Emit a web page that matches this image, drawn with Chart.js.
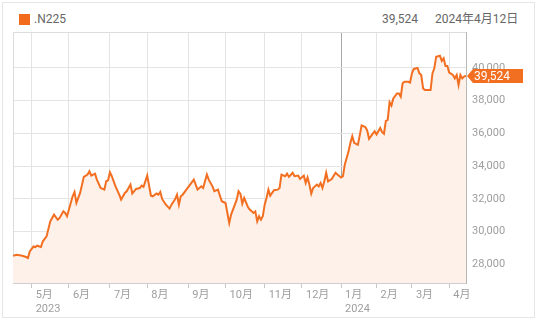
<!DOCTYPE html>
<html lang="ja">
<head>
<meta charset="utf-8">
<title>.N225</title>
<script src="https://cdn.jsdelivr.net/npm/chart.js@4.4.1/dist/chart.umd.min.js"></script>
<style>
  html, body { margin: 0; padding: 0; background: #fff; }
  body { width: 537px; height: 322px; position: relative; overflow: hidden;
         font-family: Roboto, "Noto Sans CJK JP", sans-serif; }
  #frame { position: absolute; left: 2px; top: 2px; width: 531px; height: 314px; border: 1px solid #e6e6e6; }
  #legend-box { position: absolute; left: 19px; top: 14px; width: 11px; height: 11px; background: #f26b1d; }
  .head { position: absolute; top: 11px; font-size: 12px; line-height: 16px; color: #666; }
  #chart { position: absolute; left: 0; top: 0; }
</style>
</head>
<body>
<div id="frame"></div>
<div id="legend-box"></div>
<div class="head" style="left:34px">.N225</div>
<div class="head" id="last-value" style="left:382px"></div>
<div class="head" style="left:435px">2024年4月12日</div>
<canvas id="chart" width="537" height="322"></canvas>
<script>
(function() {
  "use strict";

  // 営業日インデックス（2023年4月中旬 = 0）と終値
  var tradingDay = [
    0, 2, 5, 7, 8, 9, 11, 12, 13, 15, 16, 18, 20, 22, 24, 25, 27, 28, 29, 30,
    32, 33, 34, 36, 38, 40, 41, 42, 44, 45, 47, 49, 50, 51, 52, 53, 55, 57, 58, 60,
    61, 63, 64, 66, 68, 69, 70, 72, 74, 75, 77, 78, 79, 80, 82, 84, 85, 87, 88, 89,
    90, 91, 93, 95, 97, 98, 99, 101, 102, 104, 105, 107, 108, 110, 111, 112, 114, 115, 116, 117,
    119, 120, 121, 122, 123, 124, 126, 127, 129, 130, 131, 132, 133, 134, 135, 136, 137, 138, 140, 142,
    143, 144, 146, 147, 148, 150, 151, 153, 154, 156, 157, 158, 159, 160, 161, 163, 164, 165, 166, 167,
    168, 169, 171, 173, 174, 176, 177, 178, 180, 181, 182, 183, 185, 186, 187, 189, 190, 191, 193, 194,
    195, 196, 197, 198, 199, 200, 201, 202, 203, 204, 206, 207, 208, 209, 210, 212, 213, 214, 215, 217,
    218, 219, 220, 221, 224, 225, 226, 227, 229, 230, 231, 232, 233, 234, 236, 237, 238, 239, 240, 241,
    242, 243
  ];
  var closeValues = [
    28520, 28580, 28520, 28440, 28380, 28780, 29090, 29050, 29130, 29050, 29400, 29700, 30620, 31030, 30720, 30830, 31230, 31130, 30930, 31340,
    32150, 32420, 31750, 32360, 33340, 33480, 33680, 33420, 33540, 33170, 32660, 32560, 33070, 33130, 33620, 33380, 32760, 32260, 31950, 32360,
    32460, 32870, 32320, 32600, 32660, 32810, 32730, 33420, 32190, 32150, 32320, 32250, 32420, 31990, 31640, 31400, 31640, 31990, 32250, 31640,
    32150, 32250, 32560, 32870, 33170, 32870, 32560, 32760, 32660, 33480, 33170, 32760, 32460, 32560, 32190, 31850, 31740, 31130, 30520, 31030,
    31640, 31950, 32460, 32300, 31700, 32050, 31500, 31340, 31130, 31230, 30620, 30930, 30720, 30930, 31640, 32050, 32560, 32190, 32520, 32560,
    32660, 33480, 33380, 33540, 33340, 33590, 33380, 33420, 33210, 33420, 32970, 33300, 32870, 32320, 32660, 32870, 32760, 32970, 32660, 33070,
    33590, 33070, 33210, 33590, 33480, 33300, 33380, 34100, 34900, 35420, 35830, 35420, 35300, 35880, 36490, 36390, 36180, 35670, 35980, 36130,
    35930, 36130, 36330, 36080, 35980, 36760, 36820, 37900, 37700, 38140, 38440, 38440, 38240, 39060, 39160, 39160, 39110, 39670, 39940, 40000,
    39670, 39570, 38750, 38650, 38650, 39670, 39980, 40690, 40750, 40430, 40590, 40120, 40120, 39720, 39570, 39360, 39570, 38960, 39570, 39360,
    39470, 39524
  ];

  // 月初の営業日インデックスと目盛ラベル
  var monthTickDay = [10, 30, 52, 72, 94, 114, 135, 155, 176, 195, 214, 234];
  var monthLabels = ['5月', '6月', '7月', '8月', '9月', '10月', '11月', '12月', '1月', '2月', '3月', '4月'];
  var yearLabels = ['2023', '', '', '', '', '', '', '', '2024', '', '', ''];
  var yTickValues = [28000, 30000, 32000, 34000, 36000, 38000, 40000];

  var LINE_COLOR = '#f26f21';
  var lastClose = closeValues[closeValues.length - 1];

  function fmt(v) {
    return Number(v).toLocaleString('en-US');
  }

  document.getElementById('last-value').textContent = fmt(lastClose);

  Chart.defaults.font.family = 'Roboto, "Noto Sans CJK JP", sans-serif';

  // プロット枠（左・上）
  var framePlugin = {
    id: 'plotFrame',
    beforeDatasetsDraw: function(chart) {
      var a = chart.chartArea, ctx = chart.ctx;
      ctx.save();
      ctx.strokeStyle = '#dcdcdc';
      ctx.lineWidth = 1;
      ctx.beginPath();
      ctx.moveTo(Math.round(a.left) + 0.5, a.bottom);
      ctx.lineTo(Math.round(a.left) + 0.5, Math.round(a.top) + 0.5);
      ctx.lineTo(a.right, Math.round(a.top) + 0.5);
      ctx.stroke();
      ctx.restore();
    }
  };

  // 最新値のタグ
  var lastTagPlugin = {
    id: 'lastTag',
    afterDraw: function(chart) {
      var ctx = chart.ctx;
      var py = Math.round(chart.scales.y.getPixelForValue(lastClose));
      var x0 = chart.chartArea.right + 1;
      ctx.save();
      ctx.fillStyle = LINE_COLOR;
      ctx.beginPath();
      ctx.moveTo(x0, py);
      ctx.lineTo(x0 + 6, py - 7);
      ctx.lineTo(x0 + 56, py - 7);
      ctx.lineTo(x0 + 56, py + 7);
      ctx.lineTo(x0 + 6, py + 7);
      ctx.closePath();
      ctx.fill();
      ctx.fillStyle = '#fff';
      ctx.font = '12px Roboto, sans-serif';
      ctx.textBaseline = 'middle';
      ctx.textAlign = 'left';
      ctx.fillText(fmt(lastClose), x0 + 7, py + 1);
      ctx.restore();
    }
  };

  var points = tradingDay.map(function(d, i) {
    return { x: d, y: closeValues[i] };
  });

  new Chart(document.getElementById('chart'), {
    type: 'line',
    data: {
      datasets: [{
        label: '.N225',
        data: points,
        borderColor: LINE_COLOR,
        borderWidth: 2,
        backgroundColor: '#fdf1e9',
        fill: 'start',
        pointRadius: 0,
        tension: 0
      }]
    },
    options: {
      responsive: false,
      animation: false,
      devicePixelRatio: 1,
      layout: { padding: { left: 13, top: 32, right: 0, bottom: 0 } },
      plugins: {
        legend: { display: false },
        tooltip: { enabled: false }
      },
      scales: {
        x: {
          type: 'linear',
          min: 0,
          max: tradingDay[tradingDay.length - 1],
          afterBuildTicks: function(scale) {
            scale.ticks = monthTickDay.map(function(v) { return { value: v }; });
          },
          afterFit: function(scale) { scale.height = 39; },
          grid: {
            color: function(c) {
              return c.tick && c.tick.value === 176 ? '#a8a8a8' : '#e4e4e4';
            },
            tickColor: '#c8c8c8',
            tickLength: 5
          },
          border: { color: '#cfcfcf' },
          ticks: {
            color: '#9e9e9e',
            font: { size: 11 },
            align: 'start',
            labelOffset: 4,
            padding: 1,
            maxRotation: 0,
            autoSkip: false,
            callback: function(value, index) {
              var i = monthTickDay.indexOf(value);
              if (i < 0) return '';
              return yearLabels[i] ? [monthLabels[i], yearLabels[i]] : monthLabels[i];
            }
          }
        },
        y: {
          position: 'right',
          min: 26850,
          max: 42200,
          afterBuildTicks: function(scale) {
            scale.ticks = yTickValues.map(function(v) { return { value: v }; });
          },
          afterFit: function(scale) { scale.width = 71; },
          grid: { color: '#e4e4e4', drawTicks: false },
          border: { color: '#b8b8b8' },
          ticks: {
            color: '#9e9e9e',
            font: { size: 11 },
            padding: 6,
            callback: function(v) { return fmt(v); }
          }
        }
      }
    },
    plugins: [framePlugin, lastTagPlugin]
  });
})();
</script>
</body>
</html>
